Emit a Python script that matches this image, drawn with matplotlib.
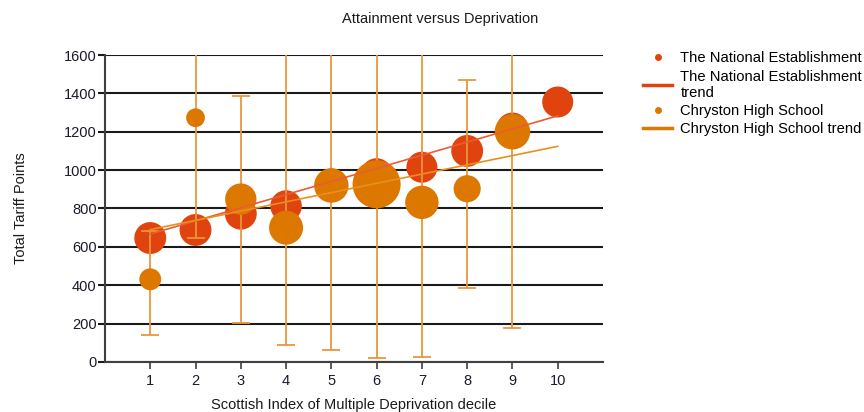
# Attainment versus Deprivation - bubble chart with trend lines

import numpy as np
import matplotlib
matplotlib.use("Agg")
import matplotlib.pyplot as plt
from matplotlib.lines import Line2D

plt.rcParams['font.family'] = ['Liberation Sans', 'DejaVu Sans']

# data
deciles = [1, 2, 3, 4, 5, 6, 7, 8, 9, 10]

national_points = [646, 688, 773, 813, 925, 980, 1015, 1100, 1217, 1355]
national_n      = [18.5, 18.5, 18.5, 18.0, 18.5, 18.0, 17.5, 18.5, 18.5, 17.5]

chryston_deciles = [1, 2, 3, 4, 5, 6, 7, 8, 9]
chryston_points  = [431, 1273, 849, 700, 920, 926, 832, 903, 1200]
chryston_n       = [8.7, 6.4, 17.9, 21.0, 21.6, 42.0, 20.3, 13.4, 22.9]
chryston_low     = [139, 645, 201, 90, 62, 19, 28, 384, 176]
chryston_high    = [684, 1900, 1388, 1700, 1780, 1830, 1640, 1471, 2230]

# trend lines (value at decile 1 and decile 10)
trend_x        = [1, 10]
national_trend = [667, 1283]
chryston_trend = [690, 1124]

red = '#E0430D'
orange = '#DC7800'
bar_col = '#E8963A'

fig = plt.figure(figsize=(8.64, 4.12), dpi=100)
ax = fig.add_axes([0.1215, 0.1214, 0.5764, 0.7451])

# grid
ax.set_ylim(0, 1600)
ax.set_xlim(0, 11)
ax.set_yticks(np.arange(0, 1601, 200))
ax.set_xticks(deciles)
ax.yaxis.grid(True, color='#1a1a1a', linewidth=1.5, zorder=0)
ax.set_axisbelow(True)

scale = 28.5
ax.scatter(deciles, national_points, s=np.array(national_n) * scale,
           color=red, edgecolors='none', zorder=3)

low = np.array(chryston_points) - np.array(chryston_low)
high = np.array(chryston_high) - np.array(chryston_points)
ax.errorbar(chryston_deciles, chryston_points, yerr=[low, high], fmt='none',
            ecolor=bar_col, elinewidth=1.3, capsize=6.5, capthick=1.3, zorder=4)

ax.scatter(chryston_deciles, chryston_points, s=np.array(chryston_n) * scale,
           color=orange, edgecolors='none', zorder=5)

ax.plot(trend_x, national_trend, color='#EE5A34', linewidth=1.2, zorder=6)
ax.plot(trend_x, chryston_trend, color='#E8901E', linewidth=1.2, zorder=6)

# axes look
for side in ['top', 'right']:
    ax.spines[side].set_visible(False)
ax.spines['left'].set_color('#404040')
ax.spines['bottom'].set_color('#404040')
ax.spines['left'].set_linewidth(1.5)
ax.spines['bottom'].set_linewidth(1.5)
ax.tick_params(axis='y', length=5, width=1.5, color='#1a1a1a', labelsize=10.5,
               labelcolor='#1a1a2a', pad=1)
ax.tick_params(axis='x', length=5, width=1.2, color='#404040', labelsize=10.5,
               labelcolor='#1a1a2a', pad=4)

ax.set_xlabel('Scottish Index of Multiple Deprivation decile', fontsize=10.5,
              color='#1a1a1a', labelpad=7)
ax.set_ylabel('Total Tariff Points', fontsize=10.5, color='#1a1a1a', labelpad=26)
fig.text(0.509, 0.955, 'Attainment versus Deprivation', ha='center', va='center',
         fontsize=10.5, color='#1a1a1a')

# legend
handles = [
    Line2D([], [], marker='o', linestyle='none', color=red, markersize=4),
    Line2D([], [], color=red, linewidth=2.5),
    Line2D([], [], marker='o', linestyle='none', color=orange, markersize=4),
    Line2D([], [], color=orange, linewidth=2.5),
]
labels = ['The National Establishment', 'The National Establishment\ntrend',
          'Chryston High School', 'Chryston High School trend']
fig.legend(handles, labels, loc='upper left', bbox_to_anchor=(0.744, 0.875),
           frameon=False, fontsize=10.6, handlelength=2.0, handletextpad=0.55,
           labelspacing=0.28, borderaxespad=0, borderpad=0)

plt.savefig('out.png', dpi=100)
